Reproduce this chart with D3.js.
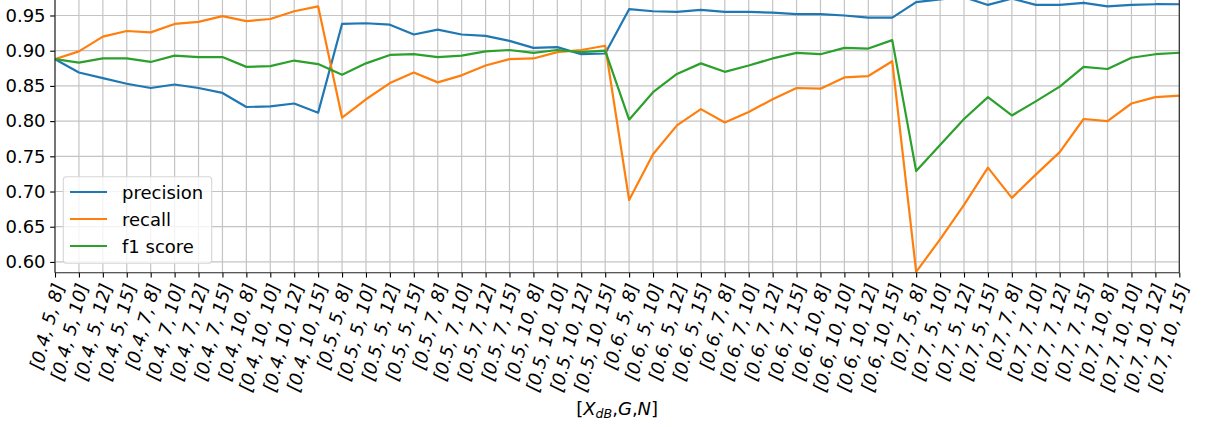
<!DOCTYPE html>
<html>
<head>
<meta charset="utf-8">
<script src="https://cdn.jsdelivr.net/npm/d3@7"></script>
<style>
  body { margin: 0; background: #fff; }
  svg { display: block; }
  text { font-family: "DejaVu Sans", sans-serif; fill: #000; }
</style>
</head>
<body>
<svg id="chart" width="1207" height="427"></svg>
<script>
// Parameter combinations [X_dB, G, N]
const categories = [
  "[0.4, 5, 8]", "[0.4, 5, 10]", "[0.4, 5, 12]", "[0.4, 5, 15]",
  "[0.4, 7, 8]", "[0.4, 7, 10]", "[0.4, 7, 12]", "[0.4, 7, 15]",
  "[0.4, 10, 8]", "[0.4, 10, 10]", "[0.4, 10, 12]", "[0.4, 10, 15]",
  "[0.5, 5, 8]", "[0.5, 5, 10]", "[0.5, 5, 12]", "[0.5, 5, 15]",
  "[0.5, 7, 8]", "[0.5, 7, 10]", "[0.5, 7, 12]", "[0.5, 7, 15]",
  "[0.5, 10, 8]", "[0.5, 10, 10]", "[0.5, 10, 12]", "[0.5, 10, 15]",
  "[0.6, 5, 8]", "[0.6, 5, 10]", "[0.6, 5, 12]", "[0.6, 5, 15]",
  "[0.6, 7, 8]", "[0.6, 7, 10]", "[0.6, 7, 12]", "[0.6, 7, 15]",
  "[0.6, 10, 8]", "[0.6, 10, 10]", "[0.6, 10, 12]", "[0.6, 10, 15]",
  "[0.7, 5, 8]", "[0.7, 5, 10]", "[0.7, 5, 12]", "[0.7, 5, 15]",
  "[0.7, 7, 8]", "[0.7, 7, 10]", "[0.7, 7, 12]", "[0.7, 7, 15]",
  "[0.7, 10, 8]", "[0.7, 10, 10]", "[0.7, 10, 12]", "[0.7, 10, 15]"
];

const precision = [
  0.888, 0.869, 0.861, 0.853, 0.847, 0.852, 0.847, 0.840, 0.820, 0.821, 0.825, 0.812,
  0.938, 0.939, 0.937, 0.923, 0.930, 0.923, 0.921, 0.914, 0.904, 0.905, 0.895, 0.896,
  0.959, 0.956, 0.955, 0.958, 0.955, 0.955, 0.954, 0.952, 0.952, 0.950, 0.947, 0.947,
  0.969, 0.973, 0.976, 0.965, 0.974, 0.965, 0.965, 0.968, 0.963, 0.965, 0.966, 0.966
];

const recall = [
  0.888, 0.899, 0.920, 0.928, 0.926, 0.938, 0.941, 0.949, 0.942, 0.945, 0.956, 0.963,
  0.805, 0.831, 0.854, 0.869, 0.855, 0.865, 0.879, 0.888, 0.889, 0.898, 0.901, 0.907,
  0.688, 0.753, 0.794, 0.817, 0.798, 0.813, 0.831, 0.847, 0.846, 0.862, 0.864, 0.885,
  0.586, 0.632, 0.681, 0.734, 0.691, 0.724, 0.756, 0.803, 0.800, 0.825, 0.834, 0.836
];

const f1Score = [
  0.888, 0.883, 0.889, 0.889, 0.884, 0.893, 0.891, 0.891, 0.877, 0.878, 0.886, 0.881,
  0.866, 0.882, 0.894, 0.895, 0.891, 0.893, 0.899, 0.901, 0.897, 0.901, 0.898, 0.900,
  0.802, 0.841, 0.867, 0.882, 0.870, 0.879, 0.889, 0.897, 0.895, 0.904, 0.903, 0.915,
  0.729, 0.766, 0.803, 0.834, 0.808, 0.828, 0.849, 0.877, 0.874, 0.890, 0.895, 0.897
];

const yTicks = [0.60, 0.65, 0.70, 0.75, 0.80, 0.85, 0.90, 0.95];
const seriesNames = ["precision", "recall", "f1 score"];
const seriesColors = ["#1f77b4", "#ff7f0e", "#2ca02c"];

const series = [precision, recall, f1Score].map((values, k) => ({
  name: seriesNames[k], color: seriesColors[k], values
}));

const svg = d3.select("#chart");
const plot = { left: 55, right: 1179.3, top: 0, bottom: 272.7 };
const fontSize = 18;

const x = d3.scalePoint().domain(categories).range([plot.left, plot.right]);
const y = d3.scaleLinear().domain([0.5847, 0.972]).range([plot.bottom, plot.top]);

svg.append("defs").append("clipPath").attr("id", "plot-clip")
  .append("rect")
  .attr("x", plot.left).attr("y", plot.top - 20)
  .attr("width", plot.right - plot.left).attr("height", plot.bottom - plot.top + 20);

// grid
const grid = svg.append("g").attr("stroke", "#c4c4c4").attr("stroke-width", 1.2);
grid.selectAll("line.vx").data(categories).join("line")
  .attr("x1", d => x(d)).attr("x2", d => x(d))
  .attr("y1", plot.top).attr("y2", plot.bottom);
grid.selectAll("line.hy").data(yTicks).join("line")
  .attr("x1", plot.left).attr("x2", plot.right)
  .attr("y1", d => y(d)).attr("y2", d => y(d));

// series lines
const line = d3.line()
  .x((d, i) => x(categories[i]))
  .y(d => y(d));

svg.append("g").attr("clip-path", "url(#plot-clip)")
  .selectAll("path").data(series).join("path")
  .attr("d", s => line(s.values))
  .attr("fill", "none")
  .attr("stroke", s => s.color)
  .attr("stroke-width", 2.2)
  .attr("stroke-linejoin", "round")
  .attr("stroke-linecap", "square");

// y axis
const yAxis = d3.axisLeft(y).tickValues(yTicks).tickFormat(d3.format(".2f"))
  .tickSize(4.86).tickPadding(4.6);
const gy = svg.append("g").attr("transform", `translate(${plot.left},0)`).call(yAxis);
gy.select(".domain").remove();
gy.selectAll(".tick line").attr("stroke", "#000").attr("stroke-width", 1.1);
gy.selectAll(".tick text").attr("font-size", fontSize)
  .attr("font-family", "DejaVu Sans").attr("fill", "#000");

// x axis ticks
const xAxis = d3.axisBottom(x).tickSize(4.86).tickFormat("");
const gx = svg.append("g").attr("transform", `translate(0,${plot.bottom})`).call(xAxis);
gx.select(".domain").remove();
gx.selectAll(".tick line").attr("stroke", "#000").attr("stroke-width", 1.1);

// rotated x tick labels
svg.append("g").selectAll("text").data(categories).join("text")
  .attr("transform", d => `translate(${x(d) + 9.5},${plot.bottom + 12.8}) rotate(-75)`)
  .attr("text-anchor", "end")
  .attr("font-size", fontSize)
  .attr("font-style", "italic")
  .text(d => d);

// spines
const spines = svg.append("g").attr("stroke", "#222").attr("stroke-width", 1.1);
spines.append("line").attr("x1", plot.left).attr("x2", plot.left).attr("y1", plot.top - 5).attr("y2", plot.bottom);
spines.append("line").attr("x1", plot.right).attr("x2", plot.right).attr("y1", plot.top - 5).attr("y2", plot.bottom);
spines.append("line").attr("x1", plot.left).attr("x2", plot.right).attr("y1", plot.bottom).attr("y2", plot.bottom);

// x axis title: [X_dB,G,N]
const xt = svg.append("text")
  .attr("x", (plot.left + plot.right) / 2)
  .attr("y", 414.5)
  .attr("text-anchor", "middle")
  .attr("font-size", fontSize);
xt.append("tspan").text("[");
xt.append("tspan").attr("font-style", "italic").text("X");
xt.append("tspan").attr("font-style", "italic").attr("font-size", fontSize * 0.7).attr("dy", 3).text("dB");
xt.append("tspan").attr("dy", -3).text(",");
xt.append("tspan").attr("font-style", "italic").text("G");
xt.append("tspan").text(",");
xt.append("tspan").attr("font-style", "italic").text("N");
xt.append("tspan").text("]");

// legend
const legend = svg.append("g");
legend.append("rect")
  .attr("x", 63.3).attr("y", 176.7).attr("width", 148.4).attr("height", 86.6)
  .attr("rx", 3).attr("ry", 3)
  .attr("fill", "#fff").attr("fill-opacity", 0.8)
  .attr("stroke", "#d6d6d6").attr("stroke-width", 1.1);
const rows = legend.selectAll("g.row").data(series).join("g")
  .attr("transform", (s, i) => `translate(0,${192 + i * 27})`);
rows.append("line")
  .attr("x1", 70).attr("x2", 107).attr("y1", 0).attr("y2", 0)
  .attr("stroke", s => s.color).attr("stroke-width", 2.2);
rows.append("text")
  .attr("x", 122).attr("y", 6.5)
  .attr("font-size", fontSize)
  .text(s => s.name);
</script>
</body>
</html>
